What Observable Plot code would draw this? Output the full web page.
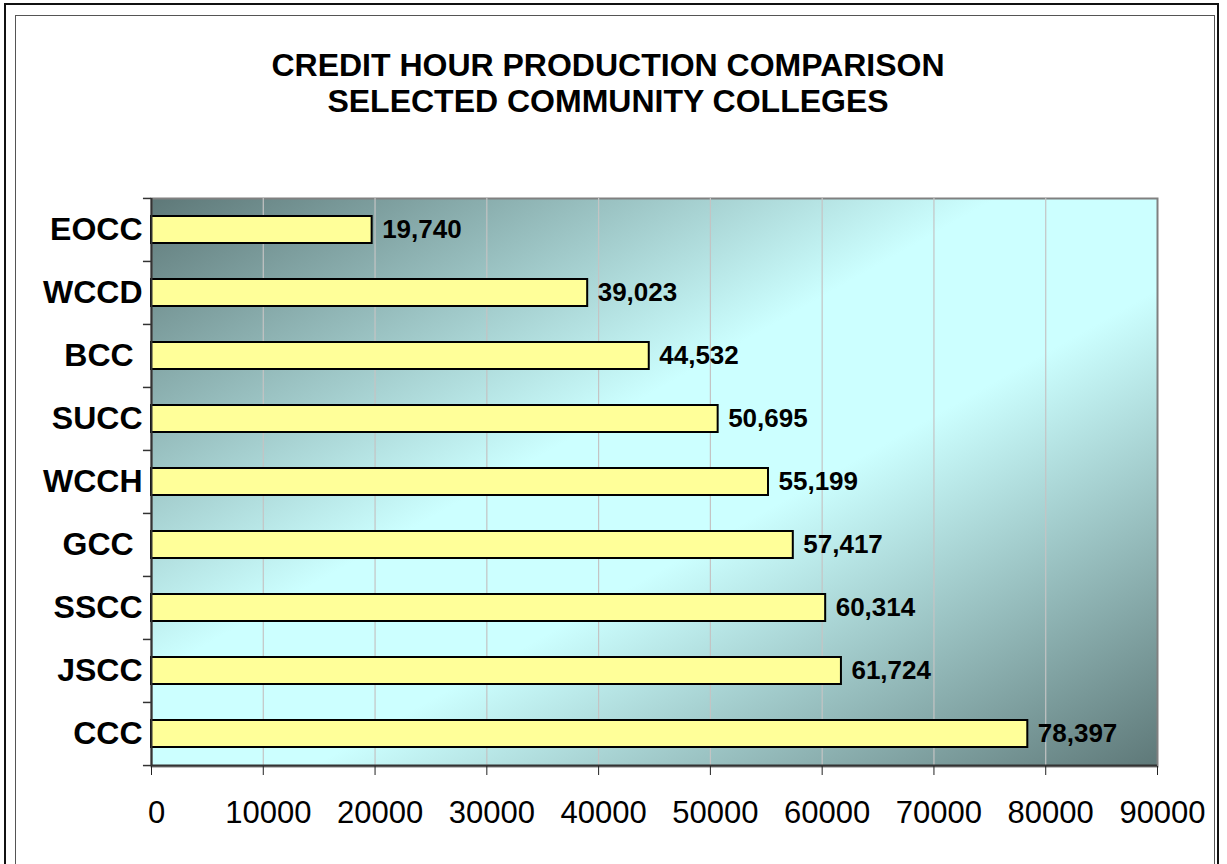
<!DOCTYPE html>
<html>
<head>
<meta charset="utf-8">
<script src="https://cdn.jsdelivr.net/npm/d3@7"></script>
<script src="https://cdn.jsdelivr.net/npm/@observablehq/plot@0.6"></script>
<style>
  html, body { margin: 0; padding: 0; background: #fff; overflow: hidden; }
  #page { position: relative; width: 1227px; height: 864px; font-family: Arial, "Liberation Sans", sans-serif; }
  #chart { position: absolute; left: 0; top: 0; }
  #outer { position: absolute; left: 4px; top: 3px; width: 1211px; height: 900px; border: 2px solid #111; pointer-events: none; }
  #inner { position: absolute; left: 15px; top: 15px; width: 1198px; height: 900px; border: 1px solid #555; pointer-events: none; }
  #title { position: absolute; left: 0; top: 47px; width: 1216px; text-align: center; font-weight: bold; font-size: 32px; line-height: 36px; color: #000; }
</style>
</head>
<body>
<div id="page">
  <div id="chart"></div>
  <div id="outer"></div>
  <div id="inner"></div>
  <div id="title">CREDIT HOUR PRODUCTION COMPARISON<br>SELECTED COMMUNITY COLLEGES</div>
</div>
<script>
const colleges = ["EOCC", "WCCD", "BCC ", "SUCC", "WCCH", "GCC ", "SSCC", "JSCC", "CCC"];
const hours = [19740, 39023, 44532, 50695, 55199, 57417, 60314, 61724, 78397];
const xTicks = [0, 10000, 20000, 30000, 40000, 50000, 60000, 70000, 80000, 90000];

const data = colleges.map((c, i) => ({college: c, hours: hours[i]}));

const W = 1227, H = 864;
const mTop = 198, mBottom = 98, mLeft = 151, mRight = 70;
const step = (H - mTop - mBottom) / colleges.length;
const fmt = d3.format(",");

const svg = Plot.plot({
  width: W,
  height: H,
  marginTop: mTop,
  marginBottom: mBottom,
  marginLeft: mLeft,
  marginRight: mRight,
  style: {background: "transparent", fontFamily: "Arial, 'Liberation Sans', sans-serif", color: "#000"},
  x: {domain: [0, 90000], label: null},
  y: {domain: colleges, paddingInner: 0.57, paddingOuter: 0.285, label: null},
  marks: [
    Plot.frame({fill: "url(#bgGrad)", stroke: "#808080", strokeWidth: 2}),
    Plot.ruleX(xTicks.slice(1, -1), {stroke: "#c4c4c4", strokeWidth: 1.2}),
    Plot.barX(data, {x: "hours", y: "college", fill: "#ffff99", stroke: "#000", strokeWidth: 2}),
    Plot.text(data, {x: "hours", y: "college", text: d => fmt(d.hours), textAnchor: "start", dx: 10, fontSize: 26, fontWeight: "bold", fill: "#000"}),
    Plot.ruleX([0], {stroke: "#333", strokeWidth: 2}),
    Plot.ruleY([colleges[colleges.length - 1]], {x1: 0, x2: 90000, dy: step / 2, stroke: "#333", strokeWidth: 2}),
    Plot.ruleY(colleges, {x1: -720, x2: 0, dy: -step / 2, stroke: "#333", strokeWidth: 1.5}),
    Plot.ruleY([colleges[colleges.length - 1]], {x1: -720, x2: 0, dy: step / 2, stroke: "#333", strokeWidth: 1.5}),
    Plot.axisY({tickSize: 0, tickPadding: 9, fontSize: 32, fontWeight: "bold", tickFormat: d => d.replace(/ $/, "\u00a0"), label: null}),
    Plot.axisX({ticks: xTicks, tickSize: 9, tickPadding: 25, fontSize: 31, tickFormat: d => String(d), stroke: "#222", label: null}),
  ]
});

// shift x tick labels slightly right, as in the original
d3.select(svg).selectAll("g[aria-label='x-axis tick label'] text").attr("dx", 5);

const ns = "http://www.w3.org/2000/svg";
const defs = document.createElementNS(ns, "defs");
defs.innerHTML = `<linearGradient id="bgGrad" x1="0" y1="0" x2="1" y2="1">
  <stop offset="0" stop-color="#5e7878"/>
  <stop offset="0.42" stop-color="#ccffff"/>
  <stop offset="0.58" stop-color="#ccffff"/>
  <stop offset="1" stop-color="#5e7878"/>
</linearGradient>`;
svg.insertBefore(defs, svg.firstChild);

document.getElementById("chart").appendChild(svg);
</script>
</body>
</html>
